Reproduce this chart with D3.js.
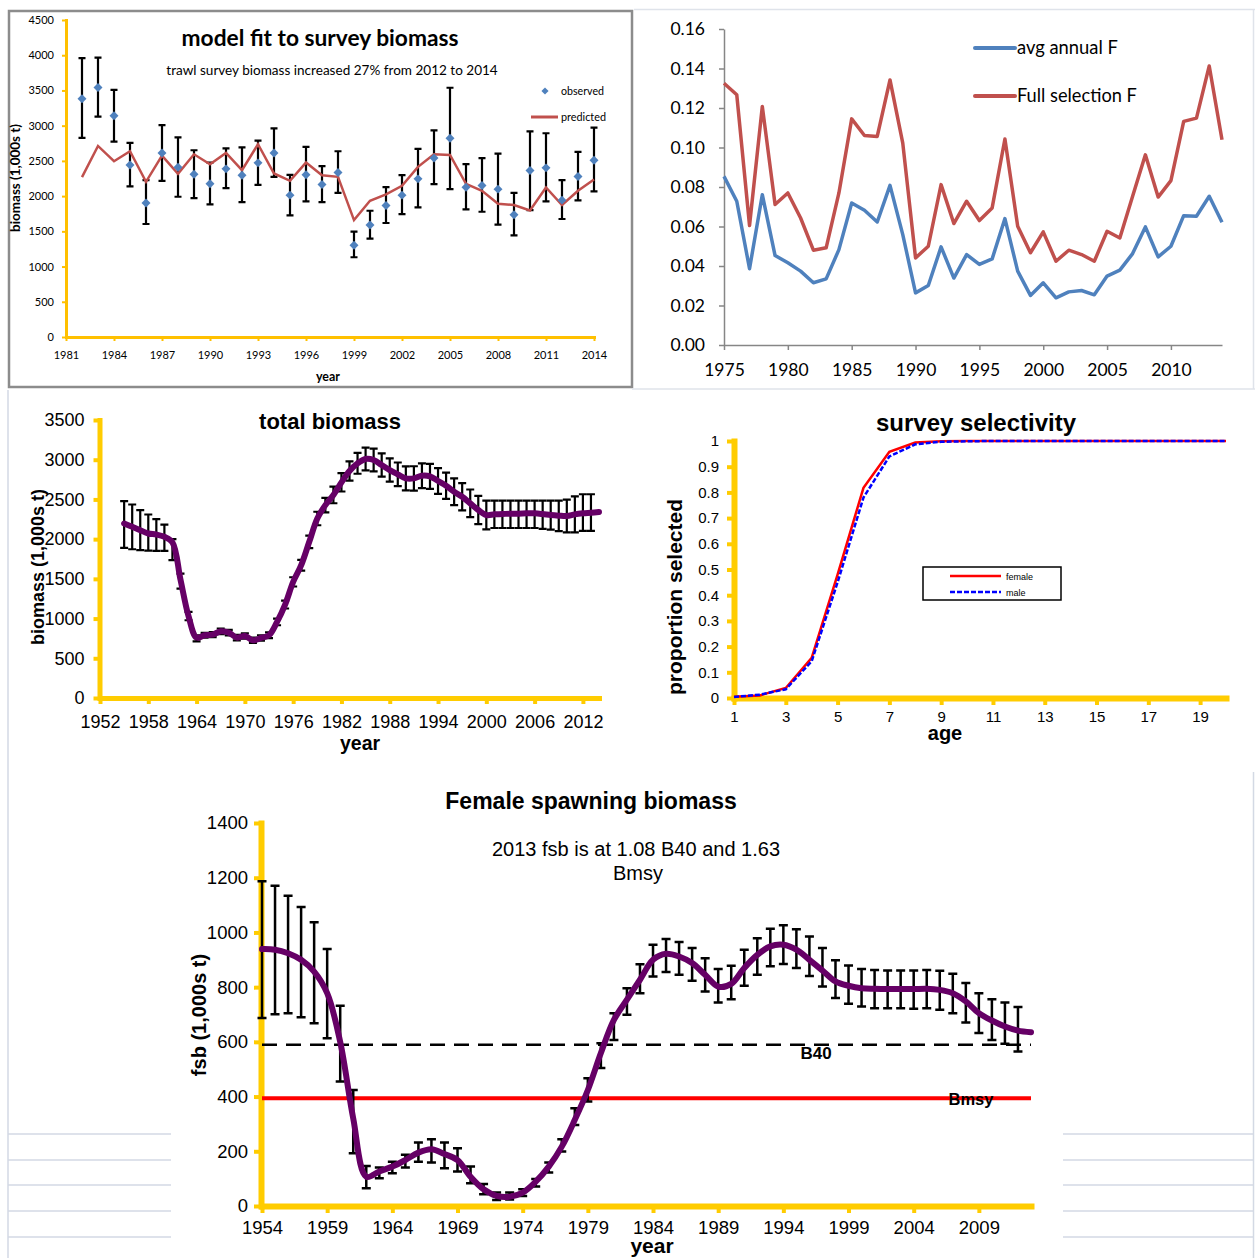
<!DOCTYPE html>
<html>
<head>
<meta charset="utf-8">
<script src="https://cdn.jsdelivr.net/npm/d3@7"></script>
<style>
  body { margin: 0; background: #fff; }
</style>
</head>
<body>
<svg id="chart"></svg>
<script>
// ---- model fit to survey biomass
var surveyYears = [1982, 1983, 1984, 1985, 1986, 1987, 1988, 1989, 1990, 1991, 1992, 1993, 1994, 1995, 1996, 1997,
    1998, 1999, 2000, 2001, 2002, 2003, 2004, 2005, 2006, 2007, 2008, 2009, 2010, 2011, 2012, 2013, 2014];
var surveyObserved = [3382, 3543, 3142, 2443, 1901, 2613, 2410, 2311, 2175, 2387, 2297, 2472, 2613, 2014, 2302, 2165,
    2335, 1302, 1590, 1868, 2014, 2245, 2542, 2821, 2127, 2151, 2099, 1736, 2363, 2401, 1943, 2278, 2509];
var surveyUpper = [3958, 3967, 3509, 2755, 2226, 3009, 2835, 2651, 2476, 2679, 2693, 2788, 2962, 2302, 2698, 2425,
    2637, 1495, 1792, 2127, 2297, 2670, 2934, 3538, 2453, 2538, 2604, 2047, 2920, 2892, 2226, 2627, 2972];
var surveyLower = [2826, 3127, 2774, 2137, 1604, 2217, 1991, 1972, 1882, 2113, 1915, 2160, 2274, 1726, 1925, 1915,
    2047, 1132, 1396, 1618, 1745, 1840, 2170, 2099, 1811, 1778, 1594, 1443, 1802, 1925, 1675, 1939, 2066];
var surveyPredicted = [2269, 2712, 2495, 2637, 2203, 2575, 2316, 2594, 2453, 2613, 2368, 2736, 2321, 2217, 2476, 2297,
    2274, 1660, 1934, 2024, 2146, 2415, 2594, 2585, 2175, 2075, 1891, 1873, 1797, 2123, 1873, 2075, 2236];
var surveyYTicks = [0, 500, 1000, 1500, 2000, 2500, 3000, 3500, 4000, 4500];
var surveyXTicks = [1981, 1984, 1987, 1990, 1993, 1996, 1999, 2002, 2005, 2008, 2011, 2014];

// ---- fishing mortality
var fYears = [1975, 1976, 1977, 1978, 1979, 1980, 1981, 1982, 1983, 1984, 1985, 1986, 1987, 1988, 1989, 1990,
    1991, 1992, 1993, 1994, 1995, 1996, 1997, 1998, 1999, 2000, 2001, 2002, 2003, 2004, 2005, 2006, 2007, 2008,
    2009, 2010, 2011, 2012, 2013, 2014];
var avgAnnualF = [0.0854, 0.0728, 0.0386, 0.0761, 0.0453, 0.0416, 0.0374, 0.0315, 0.0335, 0.0483,
    0.0719, 0.0682, 0.0623, 0.0808, 0.0559, 0.0264, 0.0301, 0.0497, 0.0339, 0.0458,
    0.0408, 0.0436, 0.0640, 0.0374, 0.0251, 0.0315, 0.0239, 0.0269, 0.0276, 0.0254,
    0.0349, 0.0379, 0.0463, 0.0598, 0.0446, 0.0500, 0.0655, 0.0652, 0.0753, 0.0621];
var fullSelectionF = [0.1325, 0.1267, 0.0605, 0.1208, 0.0711, 0.0770, 0.0643, 0.0480, 0.0492, 0.0770,
    0.1145, 0.1061, 0.1056, 0.1342, 0.1022, 0.0441, 0.0500, 0.0812, 0.0615, 0.0728,
    0.0630, 0.0694, 0.1043, 0.0601, 0.0467, 0.0573, 0.0424, 0.0480, 0.0458, 0.0424,
    0.0576, 0.0542, 0.0753, 0.0963, 0.0749, 0.0832, 0.1132, 0.1149, 0.1413, 0.1039];
var fYTicks = [0, 0.02, 0.04, 0.06, 0.08, 0.10, 0.12, 0.14, 0.16];
var fXTicks = [1975, 1980, 1985, 1990, 1995, 2000, 2005, 2010];

// ---- total biomass
var tbYears = [1955, 1956, 1957, 1958, 1959, 1960, 1961, 1962, 1963, 1964, 1965, 1966, 1967, 1968, 1969, 1970,
    1971, 1972, 1973, 1974, 1975, 1976, 1977, 1978, 1979, 1980, 1981, 1982, 1983, 1984, 1985, 1986, 1987, 1988,
    1989, 1990, 1991, 1992, 1993, 1994, 1995, 1996, 1997, 1998, 1999, 2000, 2001, 2002, 2003, 2004, 2005, 2006,
    2007, 2008, 2009, 2010, 2011, 2012, 2013, 2014];
var tbMean = [2197, 2155, 2113, 2071, 2058, 2029, 1960, 1490, 1030, 760,
    790, 798, 840, 823, 760, 781, 727, 756, 790, 958,
    1176, 1462, 1672, 1966, 2260, 2428, 2556, 2715, 2858, 2954,
    3009, 2996, 2933, 2870, 2816, 2765, 2765, 2799, 2790, 2732,
    2673, 2597, 2534, 2451, 2367, 2304, 2312, 2316, 2321, 2321,
    2325, 2325, 2316, 2304, 2296, 2291, 2312, 2325, 2333, 2342];
var tbUpper = [2478, 2436, 2365, 2310, 2251, 2184, 1999, 1567, 1084, 790,
    820, 830, 875, 858, 795, 815, 760, 790, 825, 1000,
    1225, 1520, 1740, 2045, 2345, 2520, 2660, 2830, 2980, 3085,
    3151, 3140, 3080, 3017, 2965, 2915, 2918, 2955, 2948, 2893,
    2838, 2765, 2705, 2625, 2545, 2485, 2484, 2484, 2484, 2484,
    2484, 2484, 2484, 2484, 2484, 2497, 2538, 2565, 2565, null];
var tbLower = [1890, 1873, 1861, 1856, 1852, 1852, 1735, 1378, 979, 714,
    760, 766, 805, 788, 725, 747, 694, 722, 755, 916,
    1127, 1404, 1604, 1887, 2175, 2336, 2452, 2600, 2736, 2823,
    2867, 2852, 2786, 2723, 2667, 2615, 2612, 2643, 2632, 2571,
    2508, 2429, 2363, 2277, 2189, 2123, 2140, 2140, 2140, 2140,
    2140, 2140, 2130, 2120, 2100, 2086, 2086, 2103, 2103, null];
var tbYTicks = [0, 500, 1000, 1500, 2000, 2500, 3000, 3500];
var tbXTicks = [1952, 1958, 1964, 1970, 1976, 1982, 1988, 1994, 2000, 2006, 2012];

// ---- survey selectivity
var ages = [1, 2, 3, 4, 5, 6, 7, 8, 9, 10, 11, 12, 13, 14, 15, 16, 17, 18, 19, 20];
var selFemale = [0.005, 0.010, 0.039, 0.156, 0.48, 0.818, 0.958, 0.994, 0.999, 1, 1, 1, 1, 1, 1, 1, 1, 1, 1, 1];
var selMale = [0.004, 0.013, 0.034, 0.143, 0.45, 0.78, 0.94, 0.987, 0.997, 0.999, 1, 1, 1, 1, 1, 1, 1, 1, 1, 1];
var selYTicks = [0, 0.1, 0.2, 0.3, 0.4, 0.5, 0.6, 0.7, 0.8, 0.9, 1];
var selXTicks = [1, 3, 5, 7, 9, 11, 13, 15, 17, 19];

// ---- female spawning biomass
var fsbYears = [1954, 1955, 1956, 1957, 1958, 1959, 1960, 1961, 1962, 1963, 1964, 1965, 1966, 1967, 1968, 1969,
    1970, 1971, 1972, 1973, 1974, 1975, 1976, 1977, 1978, 1979, 1980, 1981, 1982, 1983, 1984, 1985, 1986, 1987,
    1988, 1989, 1990, 1991, 1992, 1993, 1994, 1995, 1996, 1997, 1998, 1999, 2000, 2001, 2002, 2003, 2004, 2005,
    2006, 2007, 2008, 2009, 2010, 2011, 2012, 2013];
var fsbMean = [939, 937, 924, 900, 857, 778, 600, 320, 107, 126,
    144, 168, 195, 207, 190, 168, 107, 61, 37, 34,
    49, 89, 144, 217, 315, 424, 559, 680, 754, 827,
    900, 922, 912, 888, 845, 802, 812, 870, 918, 949,
    955, 937, 900, 861, 821, 805, 796, 794, 793, 793,
    793, 794, 790, 778, 748, 705, 678, 656, 641, 635];
var fsbUpper = [1187, 1171, 1134, 1093, 1037, 939, 732, 424, 146, 141,
    162, 187, 232, 244, 232, 211, 144, 80, 49, 49,
    61, 99, 159, 244, 357, 467, 595, 705, 796, 884,
    955, 976, 965, 943, 906, 866, 878, 937, 979, 1013,
    1026, 1012, 985, 943, 898, 879, 866, 863, 861, 861,
    861, 863, 860, 849, 815, 778, 756, 744, 727, null];
var fsbLower = [687, 701, 705, 690, 668, 613, 455, 193, 65, 101,
    120, 141, 162, 159, 138, 126, 83, 43, 22, 24,
    37, 71, 122, 199, 296, 382, 504, 607, 699, 778,
    839, 855, 845, 823, 784, 744, 756, 805, 845, 876,
    885, 870, 841, 802, 760, 739, 729, 723, 723, 723,
    721, 723, 717, 705, 671, 632, 607, 593, 565, null];
var fsbB40 = 589;
var fsbBmsy = 394;
var fsbYTicks = [0, 200, 400, 600, 800, 1000, 1200, 1400];
var fsbXTicks = [1954, 1959, 1964, 1969, 1974, 1979, 1984, 1989, 1994, 1999, 2004, 2009];

var calibri = "Lato, 'Open Sans', sans-serif";
var arial = "'Liberation Sans', Arial, sans-serif";
var excelYellow = "#FFC000";
var yellow = "#FFCC00";
var purple = "#660066";
var plain = d3.format("d");

var svg = d3.select("#chart").attr("width", 1255).attr("height", 1258);
svg.append("rect").attr("width", 1255).attr("height", 1258).attr("fill", "#fff");

function addText(parent, str, x, y, size, font, bold, anchor, rotate) {
    var t = parent.append("text")
        .attr("transform", "translate(" + x + "," + y + ")" + (rotate ? " rotate(" + rotate + ")" : ""))
        .attr("text-anchor", anchor || "middle")
        .style("font-family", font)
        .style("font-size", size + "px")
        .style("font-weight", bold ? "bold" : "normal")
        .attr("fill", "#000")
        .text(str);
    return t;
}

// scale a text's font so that it spans the given width
function fitWidth(t, w) {
    var len = t.node().getComputedTextLength();
    var fs = parseFloat(t.style("font-size"));
    if (len > 0) t.style("font-size", (fs * w / len) + "px");
    return t;
}

function styleAxis(g, color, width, tickWidth, font, size) {
    g.attr("font-family", null).attr("font-size", null);
    g.select(".domain").attr("stroke", color).attr("stroke-width", width).attr("stroke-linecap", "square");
    g.selectAll(".tick line").attr("stroke", color).attr("stroke-width", tickWidth);
    g.selectAll(".tick text").attr("fill", "#000").style("font-family", font).style("font-size", size + "px");
}

function errorBars(parent, xs, lo, hi, x, y, cap, width) {
    var idx = xs.map(function(d, i) { return i; }).filter(function(i) { return lo[i] != null; });
    parent.append("g").selectAll("path")
        .data(idx)
        .enter()
        .append("path")
        .attr("fill", "none")
        .attr("stroke", "#000")
        .attr("stroke-width", width)
        .attr("d", function(i) {
            var cx = x(xs[i]), t = y(hi[i]), b = y(lo[i]);
            return "M" + (cx - cap / 2) + "," + t + "h" + cap +
                "M" + cx + "," + t + "V" + b +
                "M" + (cx - cap / 2) + "," + b + "h" + cap;
        });
}

// ---- slide background lines
var slideLine = "#d3d9e4";
svg.append("line").attr("x1", 8).attr("y1", 390).attr("x2", 8).attr("y2", 1258)
    .attr("stroke", slideLine).attr("stroke-width", 1.5);
svg.append("line").attr("x1", 1253.5).attr("y1", 772).attr("x2", 1253.5).attr("y2", 1258)
    .attr("stroke", slideLine).attr("stroke-width", 1.5);
[1134, 1160, 1185, 1211, 1237].forEach(function(yy) {
    svg.append("line").attr("x1", 8).attr("x2", 171).attr("y1", yy).attr("y2", yy)
        .attr("stroke", slideLine).attr("stroke-width", 1.5);
    svg.append("line").attr("x1", 1063).attr("x2", 1253).attr("y1", yy).attr("y2", yy)
        .attr("stroke", slideLine).attr("stroke-width", 1.5);
});

// ================= survey fit (top left)
var gA = svg.append("g");
gA.append("rect").attr("x", 9).attr("y", 11).attr("width", 623).attr("height", 376)
    .attr("fill", "#fff").attr("stroke", "#8c8c8c").attr("stroke-width", 2.5);

var xA = d3.scaleLinear().domain([1981, 2014]).range([66, 594]);
var yA = d3.scaleLinear().domain([0, 4500]).range([337, 20]);

errorBars(gA, surveyYears, surveyLower, surveyUpper, xA, yA, 7, 2.2);

gA.append("path")
    .datum(surveyYears)
    .attr("fill", "none")
    .attr("stroke", "#C0504D")
    .attr("stroke-width", 2.5)
    .attr("d", d3.line()
        .x(function(d) { return xA(d); })
        .y(function(d, i) { return yA(surveyPredicted[i]); }));

var diamond = d3.symbol().type(d3.symbolSquare).size(40);
gA.append("g").selectAll("path")
    .data(surveyYears)
    .enter()
    .append("path")
    .attr("d", diamond)
    .attr("fill", "#4F81BD")
    .attr("transform", function(d, i) {
        return "translate(" + xA(d) + "," + yA(surveyObserved[i]) + ") rotate(45)";
    });

var axA = gA.append("g").attr("transform", "translate(66,0)")
    .call(d3.axisLeft(yA).tickValues(surveyYTicks).tickFormat(plain).tickSize(4).tickPadding(8).tickSizeOuter(0));
styleAxis(axA, excelYellow, 3, 2, calibri, 11);
var axAx = gA.append("g").attr("transform", "translate(0,337)")
    .call(d3.axisBottom(xA).tickValues(surveyXTicks).tickFormat(plain).tickSize(4).tickPadding(10).tickSizeOuter(0));
styleAxis(axAx, excelYellow, 3, 2, calibri, 11);

fitWidth(addText(gA, "model fit to survey biomass", 320, 46, 21, calibri, true), 277);
fitWidth(addText(gA, "trawl survey biomass increased 27% from 2012 to 2014", 332, 75, 12, calibri, false), 332);
fitWidth(addText(gA, "biomass (1,000s t)", 20, 178, 11, calibri, true, "middle", -90), 108);
fitWidth(addText(gA, "year", 328, 381, 11, calibri, true), 24);

gA.append("path").attr("d", diamond).attr("fill", "#4F81BD").attr("transform", "translate(545,91) rotate(45) scale(0.8)");
fitWidth(addText(gA, "observed", 561, 95, 10, calibri, false, "start"), 43);
gA.append("line").attr("x1", 531).attr("x2", 558).attr("y1", 117).attr("y2", 117)
    .attr("stroke", "#C0504D").attr("stroke-width", 3);
fitWidth(addText(gA, "predicted", 561, 121, 10, calibri, false, "start"), 45);

// ================= fishing mortality (top right)
var gB = svg.append("g");
var frame = "#dfe3ea";
gB.append("line").attr("x1", 634).attr("x2", 1255).attr("y1", 9.5).attr("y2", 9.5).attr("stroke", frame).attr("stroke-width", 1.5);
gB.append("line").attr("x1", 1253.5).attr("x2", 1253.5).attr("y1", 9).attr("y2", 389).attr("stroke", frame).attr("stroke-width", 1.5);
gB.append("line").attr("x1", 632).attr("x2", 1255).attr("y1", 389).attr("y2", 389).attr("stroke", frame).attr("stroke-width", 1.5);

var xB = d3.scaleLinear().domain([1975, 2014]).range([724, 1222]);
var yB = d3.scaleLinear().domain([0, 0.16]).range([345, 29]);

var axB = gB.append("g").attr("transform", "translate(724,0)")
    .call(d3.axisLeft(yB).tickValues(fYTicks).tickFormat(d3.format(".2f")).tickSize(5).tickPadding(14).tickSizeOuter(0));
styleAxis(axB, "#868686", 1.5, 1.5, calibri, 17.5);
var axBx = gB.append("g").attr("transform", "translate(0,345)")
    .call(d3.axisBottom(xB).tickValues(fXTicks).tickFormat(plain).tickSize(5).tickPadding(14).tickSizeOuter(0));
styleAxis(axBx, "#868686", 1.5, 1.5, calibri, 17.5);
axB.select(".domain").attr("stroke-linecap", "butt");
axBx.select(".domain").attr("stroke-linecap", "butt");

var fLine = function(values) {
    return d3.line()
        .x(function(d) { return xB(d); })
        .y(function(d, i) { return yB(values[i]); });
};
gB.append("path").datum(fYears).attr("fill", "none").attr("stroke", "#4F81BD")
    .attr("stroke-width", 3.5).attr("stroke-linejoin", "round").attr("d", fLine(avgAnnualF));
gB.append("path").datum(fYears).attr("fill", "none").attr("stroke", "#C0504D")
    .attr("stroke-width", 3.5).attr("stroke-linejoin", "round").attr("d", fLine(fullSelectionF));

gB.append("line").attr("x1", 975).attr("x2", 1015).attr("y1", 48).attr("y2", 48)
    .attr("stroke", "#4F81BD").attr("stroke-width", 4).attr("stroke-linecap", "round");
fitWidth(addText(gB, "avg annual F", 1017, 54, 17, calibri, false, "start"), 101);
gB.append("line").attr("x1", 975).attr("x2", 1015).attr("y1", 96).attr("y2", 96)
    .attr("stroke", "#C0504D").attr("stroke-width", 4).attr("stroke-linecap", "round");
fitWidth(addText(gB, "Full selection F", 1017, 102, 17, calibri, false, "start"), 120);

// ================= total biomass (middle left)
var gC = svg.append("g");
var xC = d3.scaleLinear().domain([1952, 2014]).range([100, 599]);
var yC = d3.scaleLinear().domain([0, 3500]).range([698, 420]);

var axC = gC.append("g").attr("transform", "translate(99.5,0)")
    .call(d3.axisLeft(yC).tickValues(tbYTicks).tickFormat(plain).tickSize(6).tickPadding(9).tickSizeOuter(0));
styleAxis(axC, yellow, 5, 4, arial, 18);
var axCx = gC.append("g").attr("transform", "translate(0,698)")
    .call(d3.axisBottom(xC).tickValues(tbXTicks).tickFormat(plain).tickSize(6).tickPadding(11).tickSizeOuter(0));
styleAxis(axCx, yellow, 5, 4, arial, 18);

errorBars(gC, tbYears, tbLower, tbUpper, xC, yC, 8, 2.2);
gC.append("path")
    .datum(tbYears)
    .attr("fill", "none")
    .attr("stroke", purple)
    .attr("stroke-width", 6)
    .attr("stroke-linejoin", "round")
    .attr("stroke-linecap", "round")
    .attr("d", d3.line()
        .curve(d3.curveCatmullRom)
        .x(function(d) { return xC(d); })
        .y(function(d, i) { return yC(tbMean[i]); }));

addText(gC, "total biomass", 330, 429, 22, arial, true);
addText(gC, "biomass (1,000s t)", 44, 567, 18, arial, true, "middle", -90);
addText(gC, "year", 360, 750, 19.5, arial, true);

// ================= survey selectivity (middle right)
var gD = svg.append("g");
var xD = d3.scaleLinear().domain([1, 20]).range([734, 1226]);
var yD = d3.scaleLinear().domain([0, 1]).range([698, 441]);

var axD = gD.append("g").attr("transform", "translate(734,0)")
    .call(d3.axisLeft(yD).tickValues(selYTicks).tickFormat(d3.format("~g")).tickSize(7).tickPadding(8).tickSizeOuter(0));
styleAxis(axD, yellow, 6, 4, arial, 15);
var axDx = gD.append("g").attr("transform", "translate(0,698)")
    .call(d3.axisBottom(xD).tickValues(selXTicks).tickSize(7).tickPadding(6).tickSizeOuter(0));
styleAxis(axDx, yellow, 6, 4, arial, 15);

var selLine = function(values) {
    return d3.line()
        .x(function(d) { return xD(d); })
        .y(function(d, i) { return yD(values[i]); });
};
gD.append("path").datum(ages).attr("fill", "none").attr("stroke", "#FF0000")
    .attr("stroke-width", 2.5).attr("d", selLine(selFemale));
gD.append("path").datum(ages).attr("fill", "none").attr("stroke", "#0000FF")
    .attr("stroke-width", 2.5).attr("stroke-dasharray", "5,2").attr("d", selLine(selMale));

addText(gD, "survey selectivity", 976, 431, 24, arial, true);
addText(gD, "proportion selected", 682, 597, 21, arial, true, "middle", -90);
addText(gD, "age", 945, 740, 20, arial, true);

gD.append("rect").attr("x", 923).attr("y", 567).attr("width", 138).attr("height", 33)
    .attr("fill", "#fff").attr("stroke", "#000").attr("stroke-width", 1.5);
gD.append("line").attr("x1", 950).attr("x2", 1001).attr("y1", 576).attr("y2", 576)
    .attr("stroke", "#FF0000").attr("stroke-width", 2.5);
addText(gD, "female", 1006, 580, 9, arial, false, "start");
gD.append("line").attr("x1", 950).attr("x2", 1001).attr("y1", 592).attr("y2", 592)
    .attr("stroke", "#0000FF").attr("stroke-width", 2.5).attr("stroke-dasharray", "5,2");
addText(gD, "male", 1006, 596, 9, arial, false, "start");

// ================= female spawning biomass (bottom)
var gE = svg.append("g");
var xE = d3.scaleLinear().domain([1954, 2013]).range([262, 1031]);
var yE = d3.scaleLinear().domain([0, 1400]).range([1206, 823]);

var axE = gE.append("g").attr("transform", "translate(261,0)")
    .call(d3.axisLeft(yE).tickValues(fsbYTicks).tickFormat(plain).tickSize(7).tickPadding(6).tickSizeOuter(0));
styleAxis(axE, yellow, 6, 4, arial, 18.5);
var axEx = gE.append("g").attr("transform", "translate(0,1206)")
    .call(d3.axisBottom(xE).tickValues(fsbXTicks).tickFormat(plain).tickSize(7).tickPadding(8).tickSizeOuter(0));
styleAxis(axEx, yellow, 6, 4, arial, 18.5);

gE.append("line").attr("x1", xE(1954)).attr("x2", xE(2013)).attr("y1", yE(fsbB40)).attr("y2", yE(fsbB40))
    .attr("stroke", "#000").attr("stroke-width", 2.5).attr("stroke-dasharray", "15,9");
gE.append("line").attr("x1", xE(1954)).attr("x2", xE(2013)).attr("y1", yE(fsbBmsy)).attr("y2", yE(fsbBmsy))
    .attr("stroke", "#FF0000").attr("stroke-width", 4);

errorBars(gE, fsbYears, fsbLower, fsbUpper, xE, yE, 9, 2.5);
gE.append("path")
    .datum(fsbYears)
    .attr("fill", "none")
    .attr("stroke", purple)
    .attr("stroke-width", 6)
    .attr("stroke-linejoin", "round")
    .attr("stroke-linecap", "round")
    .attr("d", d3.line()
        .curve(d3.curveCatmullRom)
        .x(function(d) { return xE(d); })
        .y(function(d, i) { return yE(fsbMean[i]); }));

addText(gE, "B40", 816, 1059, 17, arial, true);
addText(gE, "Bmsy", 971, 1105, 16.5, arial, true);

addText(gE, "Female spawning biomass", 591, 809, 23, arial, true);
addText(gE, "2013 fsb is at 1.08 B40 and 1.63", 636, 856, 20, arial, false);
addText(gE, "Bmsy", 638, 880, 20, arial, false);
addText(gE, "fsb (1,000s t)", 206, 1015, 20, arial, true, "middle", -90);
addText(gE, "year", 652, 1253, 21, arial, true);
</script>
</body>
</html>
